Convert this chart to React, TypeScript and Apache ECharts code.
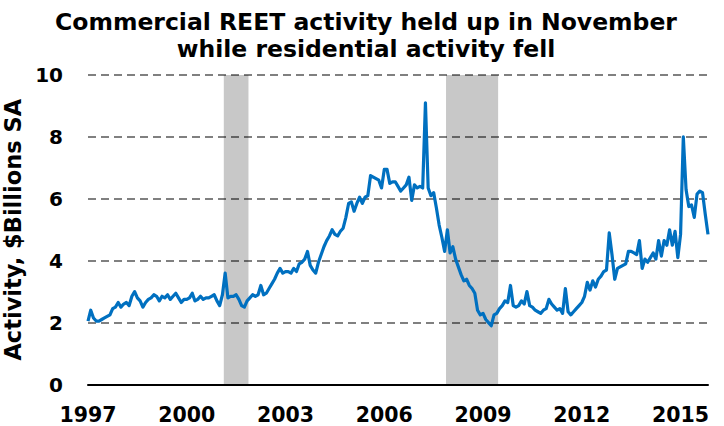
import React, { useEffect, useRef } from 'react';
import * as echarts from 'echarts';

// Monthly commercial REET activity, $ billions SA, Jan 1997 - Nov 2015
const FIRST_YEAR = 1997;
const v1997 = [2.05, 2.4, 2.15, 2.05, 2.05, 2.1, 2.15, 2.2, 2.25, 2.45, 2.5, 2.65];
const v1998 = [2.5, 2.6, 2.65, 2.55, 2.85, 3.0, 2.8, 2.7, 2.5, 2.65, 2.75, 2.8];
const v1999 = [2.9, 2.85, 2.7, 2.85, 2.8, 2.9, 2.75, 2.85, 2.95, 2.8, 2.65, 2.75];
const v2000 = [2.75, 2.8, 2.95, 2.7, 2.75, 2.85, 2.75, 2.8, 2.8, 2.85, 2.9, 2.7];
const v2001 = [2.55, 2.9, 3.6, 2.8, 2.85, 2.85, 2.9, 2.75, 2.55, 2.5, 2.7, 2.8];
const v2002 = [2.9, 2.85, 2.9, 3.2, 2.9, 2.95, 3.1, 3.25, 3.4, 3.6, 3.75, 3.6];
const v2003 = [3.65, 3.65, 3.6, 3.75, 3.65, 3.9, 3.95, 4.05, 4.3, 3.85, 3.7, 3.6];
const v2004 = [3.95, 4.2, 4.45, 4.65, 4.8, 5.0, 4.85, 4.8, 4.95, 5.05, 5.4, 5.85];
const v2005 = [5.9, 5.6, 5.85, 6.05, 5.85, 6.05, 6.1, 6.75, 6.7, 6.65, 6.6, 6.35];
const v2006 = [6.95, 6.95, 6.5, 6.55, 6.55, 6.4, 6.25, 6.35, 6.45, 6.7, 5.95, 6.45];
const v2007 = [6.35, 6.4, 6.35, 9.1, 6.35, 6.1, 6.2, 5.7, 5.15, 4.75, 4.3, 5.0];
const v2008 = [4.25, 4.45, 4.05, 3.8, 3.55, 3.35, 3.4, 3.2, 3.1, 2.95, 2.4, 2.25];
const v2009 = [2.3, 2.1, 2.0, 1.9, 2.25, 2.3, 2.45, 2.55, 2.7, 2.65, 3.2, 2.55];
const v2010 = [2.5, 2.55, 2.7, 2.6, 3.0, 2.55, 2.5, 2.4, 2.35, 2.3, 2.4, 2.45];
const v2011 = [2.75, 2.6, 2.5, 2.4, 2.45, 2.3, 3.1, 2.35, 2.25, 2.35, 2.45, 2.55];
const v2012 = [2.65, 2.85, 3.3, 3.05, 3.35, 3.15, 3.4, 3.5, 3.65, 3.7, 4.9, 4.2];
const v2013 = [3.4, 3.75, 3.8, 3.85, 3.9, 4.3, 4.3, 4.25, 4.2, 4.65, 3.75, 4.05];
const v2014 = [3.95, 4.1, 4.25, 4.05, 4.65, 4.15, 4.65, 4.5, 5.0, 4.5, 4.95, 4.1];
const v2015 = [4.85, 8.0, 6.3, 5.75, 5.8, 5.4, 6.15, 6.25, 6.2, 5.5, 4.85];

// Recession bands (month indices from Jan 1997, inclusive)
const recessionStartMonths = [50, 131];
const recessionEndMonths = [58, 149];

const yTicks = [0, 2, 4, 6, 8, 10];
const titleText = 'Commercial REET activity held up in November\nwhile residential activity fell';
const yAxisName = 'Activity, $Billions SA';

const allValues = [
  ...v1997, ...v1998, ...v1999, ...v2000, ...v2001, ...v2002, ...v2003,
  ...v2004, ...v2005, ...v2006, ...v2007, ...v2008, ...v2009, ...v2010, ...v2011,
  ...v2012, ...v2013, ...v2014, ...v2015,
];

const FONT = '"DejaVu Sans", Verdana, sans-serif';

export default function App() {
  const ref = useRef<HTMLDivElement>(null);
  useEffect(() => {
    if (!ref.current) return;
    const chart = echarts.init(ref.current, undefined, { renderer: 'svg' });
    const data = allValues.map((v, i) => [i / 12, v]);
    const maxX = (allValues.length - 1) / 12;
    const bands = recessionStartMonths.map((s, i) => [
      { xAxis: (s - 0.5) / 12 },
      { xAxis: (recessionEndMonths[i] + 0.5) / 12 },
    ]);
    chart.setOption({
      animation: false,
      backgroundColor: '#fff',
      graphic: [
        {
          type: 'text',
          x: 366,
          y: 8,
          style: {
            text: titleText,
            align: 'center',
            verticalAlign: 'top',
            fontFamily: FONT,
            fontWeight: 'bold',
            fontSize: 23.5,
            lineHeight: 27,
            fill: '#000',
          },
        },
      ],
      grid: {
        left: 88,
        right: 16,
        top: 75,
        bottom: 41.5,
        containLabel: false,
        outerBoundsMode: 'none',
      },
      xAxis: {
        type: 'value',
        min: 0,
        max: maxX,
        interval: 3,
        axisLine: { show: true, onZero: false, lineStyle: { color: '#000', width: 2 } },
        axisTick: { show: false },
        splitLine: { show: false },
        axisLabel: {
          margin: 21,
          fontFamily: FONT,
          fontWeight: 'bold',
          fontSize: 20.5,
          lineHeight: 18,
          color: '#000',
          formatter: (v: number) => {
            const r = Math.round(v);
            if (Math.abs(v - r) > 1e-6 || r % 3 !== 0) return '';
            return String(FIRST_YEAR + r);
          },
        },
      },
      yAxis: {
        type: 'value',
        min: yTicks[0],
        max: yTicks[yTicks.length - 1],
        interval: 2,
        name: yAxisName,
        nameLocation: 'middle',
        nameGap: 54,
        nameTextStyle: {
          fontFamily: FONT,
          fontWeight: 'bold',
          fontSize: 22.5,
          color: '#000',
        },
        axisLine: { show: false },
        axisTick: { show: false },
        splitLine: { show: true, lineStyle: { color: '#808080', width: 2, type: [8, 5] } },
        axisLabel: {
          margin: 25,
          fontFamily: FONT,
          fontWeight: 'bold',
          fontSize: 20,
          color: '#000',
        },
      },
      series: [
        {
          type: 'line',
          data,
          showSymbol: false,
          symbol: 'none',
          lineStyle: { color: '#0070C0', width: 3.2, join: 'round' },
          z: 3,
          markArea: {
            silent: true,
            itemStyle: { color: 'rgba(0,0,0,0.215)' },
            data: bands,
          },
        },
      ],
    });
    return () => chart.dispose();
  }, []);
  return <div ref={ref} style={{ width: 724, height: 426, position: 'absolute', left: 0, top: 0 }} />;
}
